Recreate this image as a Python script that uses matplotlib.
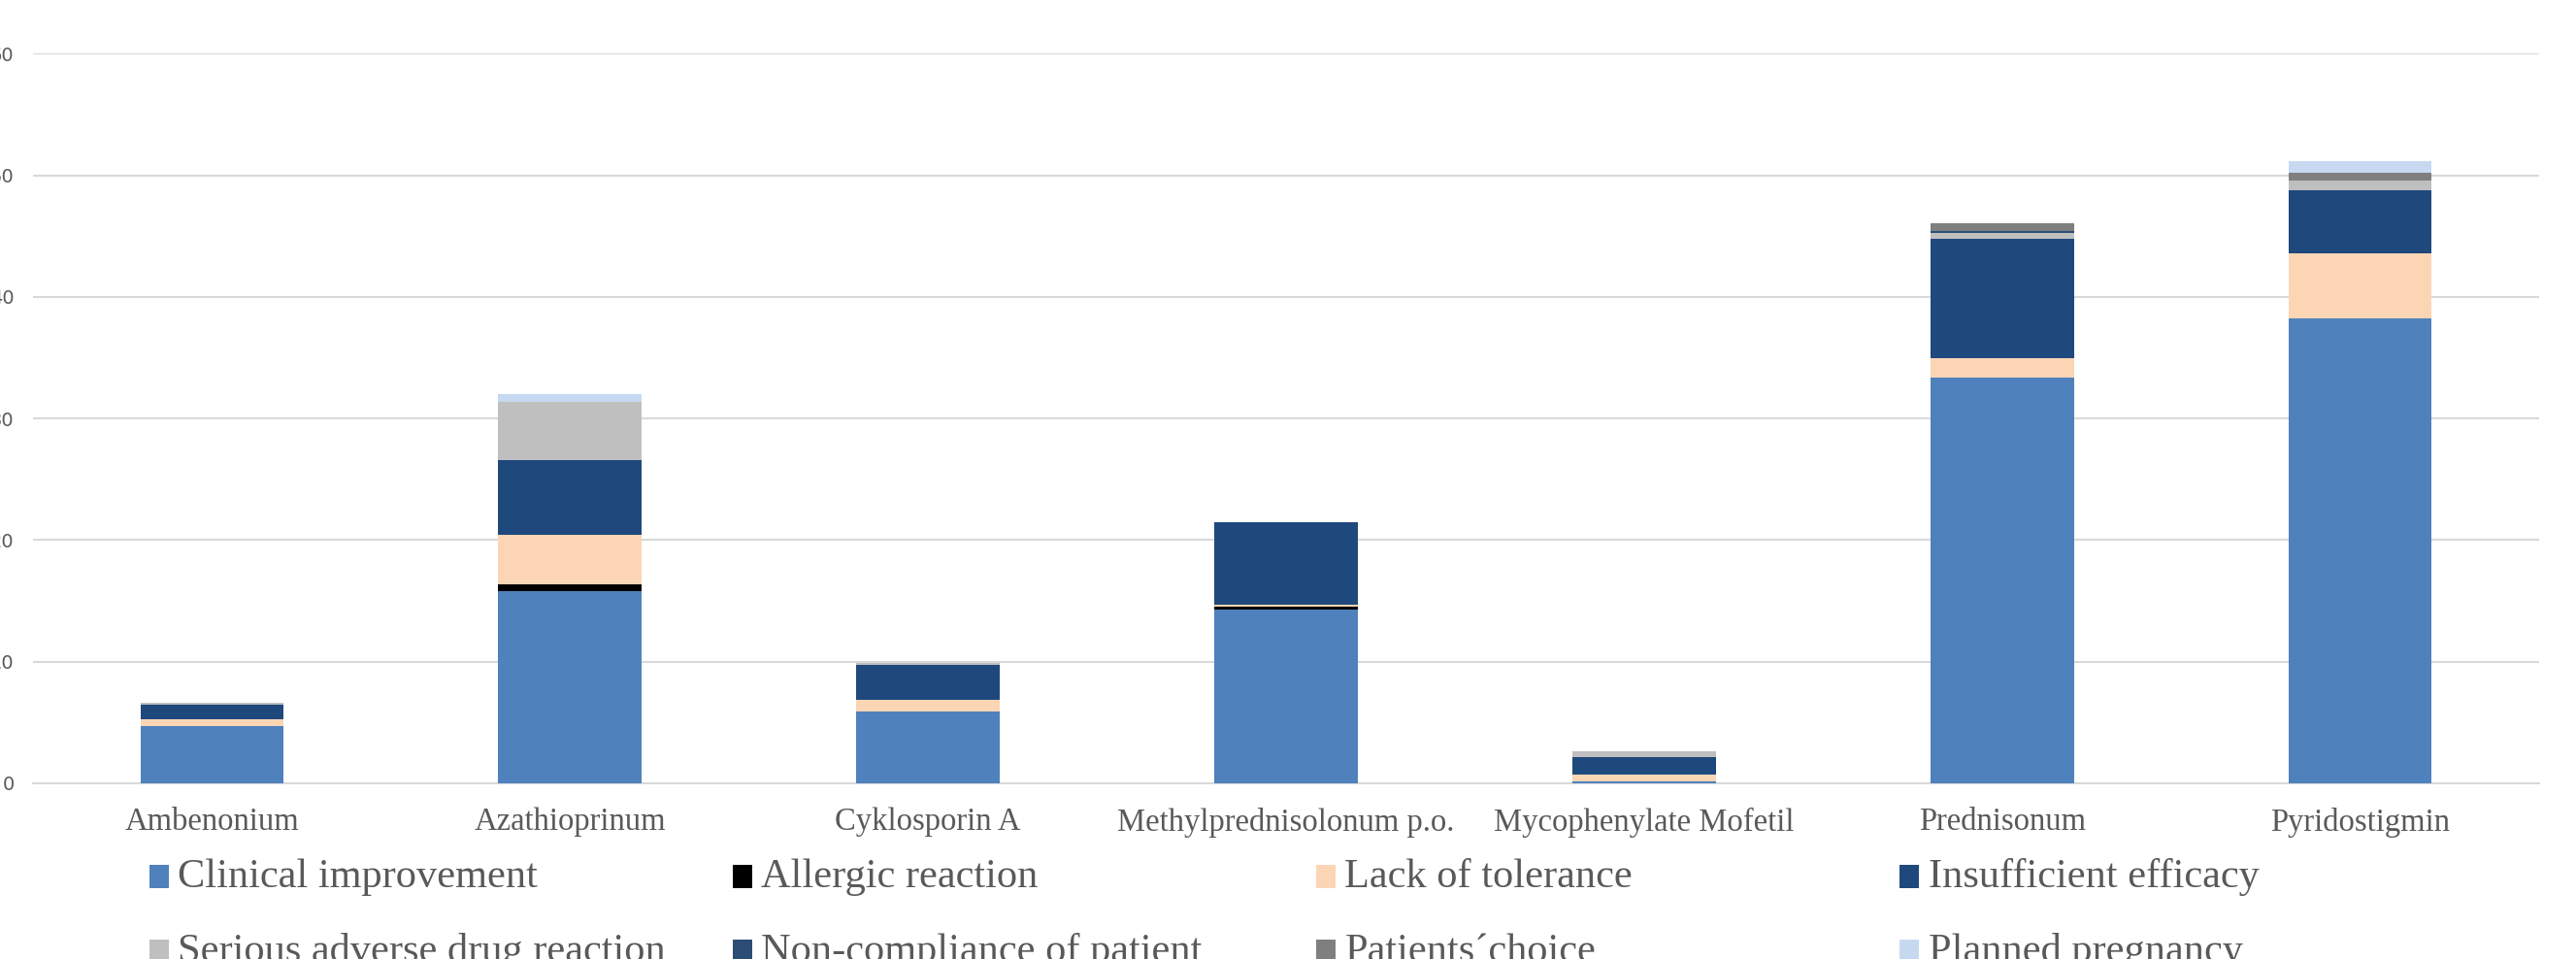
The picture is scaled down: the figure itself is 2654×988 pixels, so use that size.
import matplotlib
matplotlib.use('Agg')
import matplotlib.pyplot as plt
import numpy as np
from matplotlib.patches import Rectangle

drugs = ['Ambenonium', 'Azathioprinum', 'Cyklosporin A', 'Methylprednisolonum p.o.',
         'Mycophenylate Mofetil', 'Prednisonum', 'Pyridostigmin']

reasons = ['Clinical improvement', 'Allergic reaction', 'Lack of tolerance', 'Insufficient efficacy',
           'Serious adverse drug reaction', 'Non-compliance of patient', 'Patients\u00b4choice',
           'Planned pregnancy']

clinical_improvement = [4.7, 15.8, 5.9, 14.3, 0.15, 33.4, 38.2]
allergic_reaction = [0, 0.6, 0, 0.2, 0, 0, 0]
lack_of_tolerance = [0.6, 4.0, 1.0, 0.15, 0.6, 1.6, 5.4]
insufficient_efficacy = [1.2, 6.2, 2.8, 6.8, 1.4, 9.8, 5.2]
serious_adverse = [0.15, 4.8, 0.2, 0, 0.45, 0.43, 0.8]
non_compliance = [0, 0, 0, 0, 0, 0.16, 0]
patients_choice = [0, 0, 0, 0, 0, 0.67, 0.6]
planned_pregnancy = [0, 0.6, 0, 0, 0, 0, 1.0]

yticks = [0, 10, 20, 30, 40, 50, 60]

series = [clinical_improvement, allergic_reaction, lack_of_tolerance, insufficient_efficacy,
          serious_adverse, non_compliance, patients_choice, planned_pregnancy]
colors = ['#4F81BD', '#000000', '#FCD5B5', '#1F497D', '#BFBFBF', '#2C4D75', '#7F7F7F', '#C6D9F1']

txt = '#595959'
serif = 'Liberation Serif'

fig = plt.figure(figsize=(26.54, 9.88), dpi=100)
ax = fig.add_axes([0.0128, 0.1832, 0.9729, 0.7607])

x = np.arange(len(drugs))
bottom = np.zeros(len(drugs))
for vals, col, name in zip(series, colors, reasons):
    vals = np.array(vals)
    ax.bar(x, vals, width=0.4, bottom=bottom, color=col, label=name, zorder=3)
    bottom += vals

ax.set_xlim(-0.5, len(drugs) - 0.5)
ax.set_ylim(0, 60)
ax.set_yticks(yticks)
ax.set_yticklabels([str(v) for v in yticks], color=txt, fontsize=14)
ax.tick_params(axis='y', length=0, pad=14)
ax.set_xticks(x)
ax.set_xticklabels(drugs, fontfamily=serif, fontsize=23.5, color=txt)
ax.tick_params(axis='x', length=0, pad=18)
ax.grid(axis='y', color='#D9D9D9', linewidth=1.5, zorder=0)
for s in ['top', 'right', 'left']:
    ax.spines[s].set_visible(False)
ax.spines['bottom'].set_color('#D9D9D9')
ax.spines['bottom'].set_linewidth(1.5)

# legend laid out as a 4 x 2 grid below the plot
col_x = [0.058, 0.2845, 0.511, 0.7375]
row_y = [0.0857, 0.0077]
sq_w, sq_h = 20 / 2654, 24 / 988
for i, (name, col) in enumerate(zip(reasons, colors)):
    cx = col_x[i % 4]
    cy = row_y[i // 4]
    fig.add_artist(Rectangle((cx, cy - sq_h / 2), sq_w, sq_h, facecolor=col,
                             edgecolor='none', transform=fig.transFigure))
    fig.text(cx + sq_w + 0.0035, cy, name, fontfamily=serif, fontsize=30.5,
             color=txt, va='center', ha='left')

fig.savefig('out.png', dpi=100)
